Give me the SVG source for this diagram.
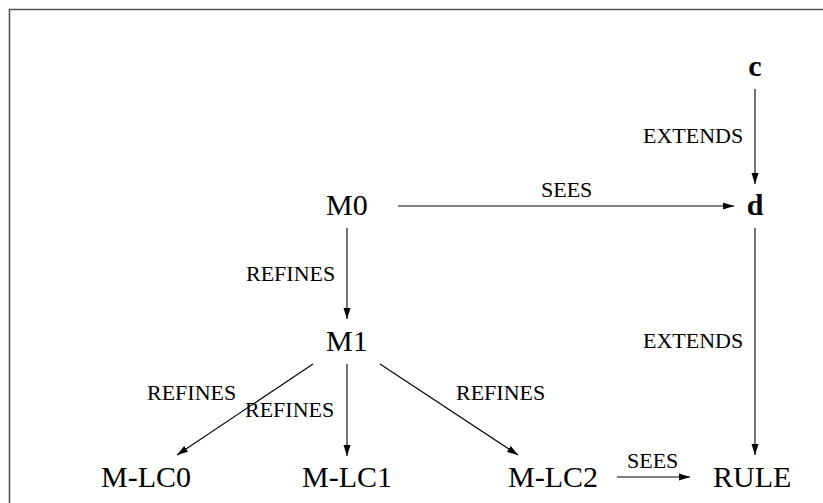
<svg xmlns="http://www.w3.org/2000/svg" width="823" height="503" viewBox="0 0 823 503">
<defs>
<style>
.node{font-family:"Liberation Serif","Times New Roman",serif;font-size:30px;fill:#000}
.bold{font-weight:bold}
.lbl{font-family:"Liberation Serif","Times New Roman",serif;font-size:22px;fill:#000}
.edge{stroke:#000;stroke-width:1.1;fill:none;marker-end:url(#arr)}
</style>
<marker id="arr" markerUnits="userSpaceOnUse" markerWidth="11" markerHeight="8" refX="11" refY="4" orient="auto">
<path d="M0,0.5 L11,4 L0,7.5 z" fill="#000"/>
</marker>
</defs>
<rect width="823" height="503" fill="#fff"/>
<g id="frame" stroke="#555" stroke-width="1.6" fill="none">
<path d="M9.5,503 L9.5,9.5 L823,9.5"/>
</g>
<g id="connectors">
<line class="edge" x1="755" y1="89" x2="755" y2="184"/>
<line class="edge" x1="398" y1="206" x2="734" y2="206"/>
<line class="edge" x1="347" y1="228" x2="347" y2="319"/>
<line class="edge" x1="755" y1="228" x2="755" y2="455"/>
<line class="edge" x1="313" y1="364" x2="177" y2="455"/>
<line class="edge" x1="347" y1="364" x2="347" y2="456"/>
<line class="edge" x1="380" y1="364" x2="518" y2="455"/>
<line class="edge" x1="617" y1="477" x2="690" y2="477"/>
<text class="lbl" x="643" y="143">EXTENDS</text>
<text class="lbl" x="541" y="197">SEES</text>
<text class="lbl" x="246" y="281">REFINES</text>
<text class="lbl" x="643" y="348">EXTENDS</text>
<text class="lbl" x="147" y="400">REFINES</text>
<text class="lbl" x="245" y="417">REFINES</text>
<text class="lbl" x="456" y="400">REFINES</text>
<text class="lbl" x="627" y="468">SEES</text>
</g>
<g id="node-c"><text class="node bold" x="755" y="76" text-anchor="middle">c</text></g>
<g id="node-d"><text class="node bold" x="755" y="215" text-anchor="middle">d</text></g>
<g id="node-M0"><text class="node" x="326" y="215">M0</text></g>
<g id="node-M1"><text class="node" x="326" y="351">M1</text></g>
<g id="node-MLC0"><text class="node" x="101" y="487">M-LC0</text></g>
<g id="node-MLC1"><text class="node" x="302" y="487">M-LC1</text></g>
<g id="node-MLC2"><text class="node" x="508" y="487">M-LC2</text></g>
<g id="node-RULE"><text class="node" x="713" y="487">RULE</text></g>
</svg>
